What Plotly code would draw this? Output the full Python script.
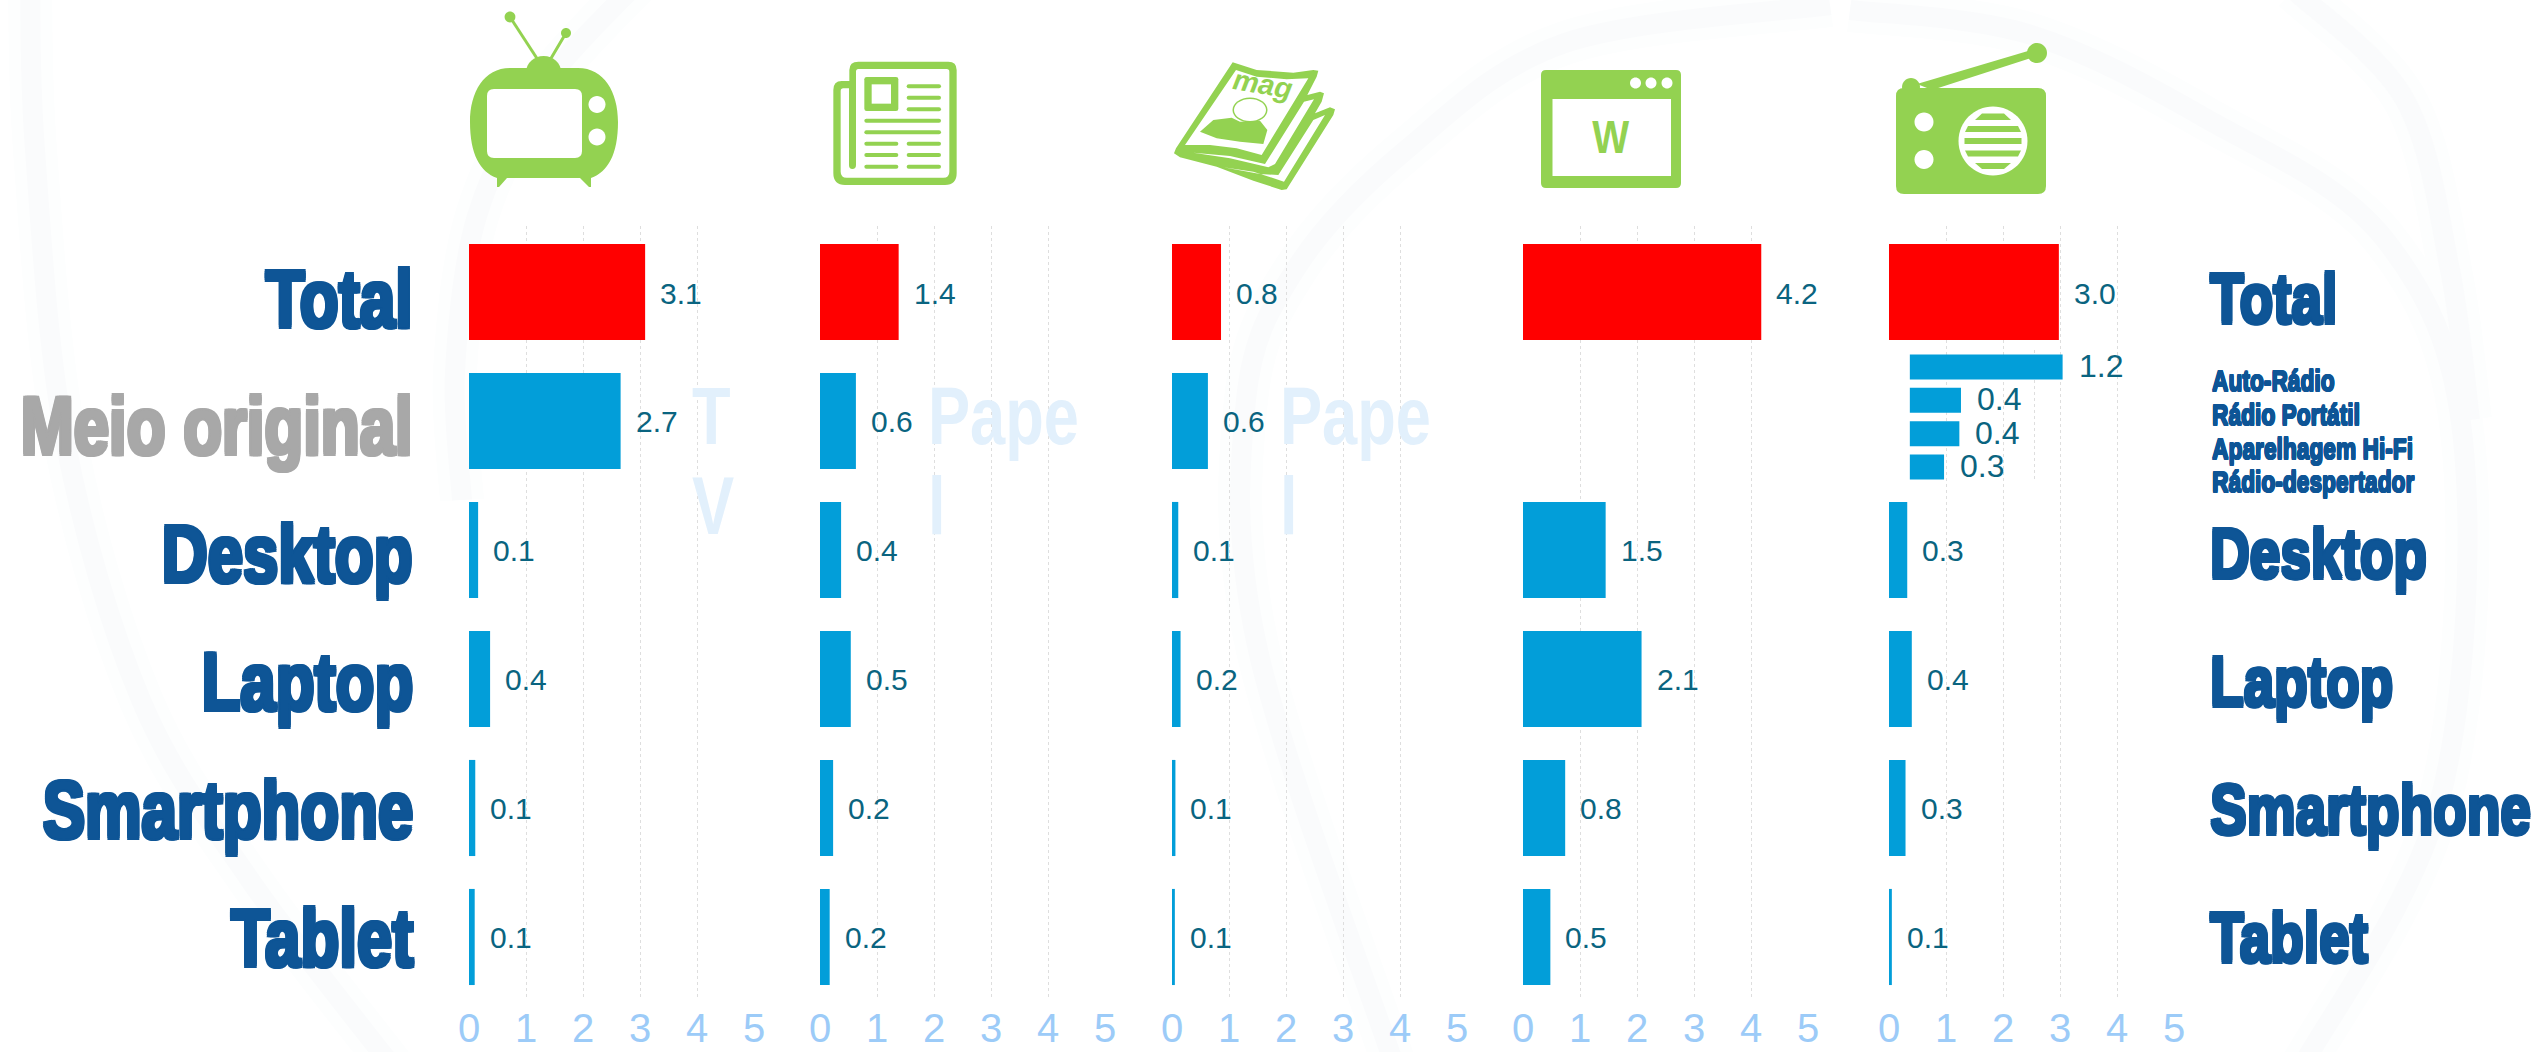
import re
import plotly.graph_objects as go

W, H = 2547, 1052

# ---------- data ----------
rows = ["Total", "Meio original", "Desktop", "Laptop", "Smartphone", "Tablet"]
tv_values = [3.09, 2.66, 0.16, 0.37, 0.11, 0.10]
tv_labels = ["3.1", "2.7", "0.1", "0.4", "0.1", "0.1"]
paper_values = [1.38, 0.63, 0.37, 0.54, 0.23, 0.17]
paper_labels = ["1.4", "0.6", "0.4", "0.5", "0.2", "0.2"]
mag_values = [0.86, 0.63, 0.11, 0.15, 0.06, 0.05]
mag_labels = ["0.8", "0.6", "0.1", "0.2", "0.1", "0.1"]
web_values = [4.18, None, 1.45, 2.08, 0.74, 0.48]
web_labels = ["4.2", "", "1.5", "2.1", "0.8", "0.5"]
radio_values = [2.98, None, 0.32, 0.40, 0.29, 0.05]
radio_labels = ["3.0", "", "0.3", "0.4", "0.3", "0.1"]
radio_kinds = ["Auto-Rádio", "Rádio Portátil", "Aparelhagem Hi-Fi", "Rádio-despertador"]
radio_kind_values = [1.23, 0.413, 0.40, 0.277]
radio_kind_labels = ["1.2", "0.4", "0.4", "0.3"]
axis_ticks = [0, 1, 2, 3, 4, 5]

panel_values = [tv_values, paper_values, mag_values, web_values, radio_values]
panel_labels = [tv_labels, paper_labels, mag_labels, web_labels, radio_labels]
panel_x0 = [469, 820, 1172, 1523, 1889]
UNIT = 57

# ---------- colours ----------
RED = "#ff0000"
BLUE = "#029ed9"
GREEN = "#93d251"
NAVY = "#0e5596"
GREY = "#a8a8a8"
TEAL = "#0a6480"
TICK = "#9ccbf8"
GHOST = "#e2f0fc"
GRID = "#dedede"
SANS = "Liberation Sans"


def fx(x):
    return x / W


def fy(y):
    return 1 - y / H


def tr(path, sx=1, sy=1, ox=0, oy=0):
    """Turn a path in picture pixels into a path in paper fractions."""
    out, nums = [], []
    for tok in re.findall(r"[MLQCZ]|-?\d+\.?\d*", path):
        if tok in "MLQCZ":
            out.append(tok)
        else:
            nums.append(float(tok))
            if len(nums) == 2:
                out.append(f"{fx(nums[0]*sx+ox):.6f},{fy(nums[1]*sy+oy):.6f}")
                nums = []
    return " ".join(out)


shapes = []


def fill(path, color=GREEN, **k):
    shapes.append(dict(type="path", xref="paper", yref="paper", path=tr(path, **k),
                       fillcolor=color, line=dict(width=0), layer="below"))


def poly(pts, color=GREEN, **k):
    fill("M" + " L".join(f"{a},{b}" for a, b in pts) + " Z", color, **k)


def ell(cx, cy, rx, ry=None, color=GREEN):
    ry = rx if ry is None else ry
    c = 0.5523
    fill(f"M{cx-rx},{cy} C{cx-rx},{cy-c*ry} {cx-c*rx},{cy-ry} {cx},{cy-ry} "
         f"C{cx+c*rx},{cy-ry} {cx+rx},{cy-c*ry} {cx+rx},{cy} "
         f"C{cx+rx},{cy+c*ry} {cx+c*rx},{cy+ry} {cx},{cy+ry} "
         f"C{cx-c*rx},{cy+ry} {cx-rx},{cy+c*ry} {cx-rx},{cy} Z", color)


def rrect(x0, y0, x1, y1, r, color=GREEN):
    fill(f"M{x0+r},{y0} L{x1-r},{y0} Q{x1},{y0} {x1},{y0+r} L{x1},{y1-r} Q{x1},{y1} {x1-r},{y1} "
         f"L{x0+r},{y1} Q{x0},{y1} {x0},{y1-r} L{x0},{y0+r} Q{x0},{y0} {x0+r},{y0} Z", color)


def stroke(points, color, width):
    d = [f"M{points[0][0]},{points[0][1]}"]
    p = [points[0]] + list(points) + [points[-1]]
    for i in range(1, len(p) - 2):
        a, b, c, e = p[i - 1], p[i], p[i + 1], p[i + 2]
        d.append(f"C{b[0]+(c[0]-a[0])/6:.1f},{b[1]+(c[1]-a[1])/6:.1f} "
                 f"{c[0]-(e[0]-b[0])/6:.1f},{c[1]-(e[1]-b[1])/6:.1f} {c[0]},{c[1]}")
    shapes.append(dict(type="path", xref="paper", yref="paper", path=tr(" ".join(d)),
                       line=dict(color=color, width=width), layer="below"))


# ---------- faint background swooshes ----------
swooshes = [
    [(30, -20), (35, 150), (65, 440), (141, 700), (250, 880), (395, 1070)],
    [(640, -20), (540, 90), (477, 216), (455, 372), (462, 500)],
    [(1830, 5), (1565, 43), (1406, 150), (1297, 267), (1246, 400), (1258, 650), (1396, 1070)],
    [(1850, 10), (2028, 34), (2205, 118), (2383, 237), (2463, 440), (2440, 800), (2300, 1070)],
    [(2294, -10), (2405, 100), (2450, 270), (2470, 420)],
]
for s in swooshes:
    stroke(s, "#fdfefe", 44)
for s in swooshes:
    stroke(s, "#fafbfc", 20)

# ---------- TV icon ----------
stroke([(510, 17), (538, 60)], GREEN, 3)
stroke([(566, 33), (550, 60)], GREEN, 3)
ell(510, 17, 5.4, 5.4)
ell(566, 33, 5, 5)
ell(543.6, 72, 17.5, 16)
fill("M510,68 L578,68 C604,68 618,92 618,122 C618,154 608,172 591,178 L591,187 L589,187 L580,178 "
     "L507,178 L499,187 L497,187 L497,178 C480,172 470,154 470,122 C470,92 484,68 510,68 Z")
rrect(487, 89, 582, 158, 7, "white")
ell(597, 104.5, 8.5, 8.5, "white")
ell(597, 137, 8.5, 8.5, "white")

# ---------- newspaper icon ----------
news = dict(sx=1 / 3, sy=1 / 3, ox=825, oy=55)
fill("M100,20 L370,20 Q395,20 395,45 L395,355 Q395,390 360,390 L60,390 Q25,390 25,355 L25,105 "
     "Q25,78 50,78 L73,78 L73,45 Q73,20 100,20 Z", **news)
fill("M100,42 L365,42 Q373,42 373,50 L373,350 Q373,368 355,368 L65,368 Q47,368 47,350 L47,108 "
     "Q47,100 55,100 L72,100 L72,330 Q72,342 82,342 Q93,342 93,330 L93,50 Q93,42 100,42 Z",
     "white", **news)
fill("M125,66 L213,66 Q220,66 220,73 L220,161 Q220,168 213,168 L125,168 Q118,168 118,161 L118,73 "
     "Q118,66 125,66 Z", **news)
fill("M140,88 L198,88 L198,146 L140,146 Z", "white", **news)
news_lines = [(245, 348, 94), (245, 348, 128), (245, 348, 163), (118, 348, 197), (118, 348, 232),
              (118, 220, 266), (245, 348, 266), (118, 220, 300), (245, 348, 300),
              (118, 220, 335), (245, 348, 335)]
for a, b, y in news_lines:
    fill(f"M{a+6},{y-6} L{b-6},{y-6} Q{b},{y-6} {b},{y} Q{b},{y+6} {b-6},{y+6} L{a+6},{y+6} "
         f"Q{a},{y+6} {a},{y} Q{a},{y-6} {a+6},{y-6} Z", **news)

# ---------- magazine icon ----------
mag = dict(sx=1 / 3, sy=1 / 3, ox=1160, oy=50)
poly([(218, 37), (290, 60), (400, 68), (460, 60), (475, 62), (470, 80), (442, 135), (480, 125),
      (492, 130), (485, 155), (465, 190), (510, 172), (525, 178), (520, 195), (380, 418), (365, 420),
      (280, 392), (170, 350), (60, 322), (42, 310), (48, 295)], **mag)
poly([(228, 60), (290, 80), (380, 88), (445, 85), (305, 315), (230, 295), (150, 285), (75, 285)],
     "white", **mag)
poly([(432, 155), (462, 148), (345, 342), (325, 352), (210, 325), (100, 308), (210, 318), (315, 342)],
     "white", **mag)
poly([(460, 210), (495, 195), (372, 395), (280, 365), (190, 352), (300, 372), (355, 375)], "white", **mag)
poly([(120, 245), (160, 210), (215, 203), (240, 215), (300, 212), (322, 240), (310, 282), (240, 275),
      (170, 265)], **mag)
ell(1160 + 270 / 3, 50 + 180 / 3, 17.5, 12.5)
ell(1160 + 270 / 3, 50 + 180 / 3, 16, 11, "white")

# ---------- web icon ----------
rrect(1541, 70, 1681, 188, 5)
fill("M1552.5,99 L1671,99 L1671,176 L1552.5,176 Z", "white")
for cx in (1635.5, 1651, 1667):
    ell(cx, 83, 5.5, 5.5, "white")

# ---------- radio icon ----------
ell(1911, 87, 9)
poly([(1917, 84), (2028, 51), (2031, 58), (1932, 90)])
ell(2037, 53, 10)
rrect(1896, 88, 2046, 194, 8)
ell(1924, 122, 9.5, 9.5, "white")
ell(1924, 159.5, 9.5, 9.5, "white")
ell(1993, 141, 34.5, 34.5, "white")
poly([(1982, 113.5), (2004, 113.5), (2011, 120), (1975, 120)])
poly([(1968, 126), (2018, 126), (2021, 132), (1965, 132)])
poly([(1964.5, 138), (2021.5, 138), (2021.5, 144), (1964.5, 144)])
poly([(1965, 150.5), (2021, 150.5), (2018, 156.5), (1968, 156.5)])
poly([(1975, 163), (2011, 163), (2004, 169), (1982, 169)])

# ---------- figure ----------
fig = go.Figure()
layout = {}
ann = []


def text(px, py, s, size, color, anchor="left", squeeze=None, shadow=None, bold=True, **k):
    f = dict(size=size, color=color, family=SANS, weight=700 if bold else 400)
    if shadow:
        f["shadow"] = shadow
    d = dict(xref="paper", yref="paper", x=fx(px), y=fy(py), text=s, showarrow=False,
             xanchor=anchor, yanchor="middle", font=f, **k)
    if squeeze:
        d["name"] = f"squeeze:{squeeze}"
    ann.append(d)


def heavy(c, d=1.5):
    return ", ".join(f"{a}px {b}px 0 {c}" for a, b in
                     [(d, 0), (-d, 0), (0, d), (0, -d), (d, d), (-d, -d), (d, -d), (-d, d)])


# y range chosen so gridlines span 226..998 with rows 129 px apart, first centred at 292
Y_RANGE = [5.473, -0.5116]
for i, (vals, labs, x0) in enumerate(zip(panel_values, panel_labels, panel_x0)):
    n = i + 1
    colors = [RED] + [BLUE] * 5
    fig.add_trace(go.Bar(x=vals, y=rows, orientation="h", marker=dict(color=colors, line=dict(width=0)),
                         width=0.745, xaxis=f"x{n}", yaxis=f"y{n}", showlegend=False, hoverinfo="x+y"))
    layout[f"xaxis{n}"] = dict(domain=[fx(x0), fx(x0 + 5 * UNIT)], range=[0, 5], anchor=f"y{n}",
                               tickvals=axis_ticks, showgrid=True, gridcolor=GRID, griddash="dot",
                               gridwidth=1, zeroline=False, showline=False, ticks="", automargin=False,
                               ticklabelstandoff=3,
                               tickfont=dict(size=40, color=TICK, family=SANS))
    layout[f"yaxis{n}"] = dict(domain=[fy(998), fy(226)], range=Y_RANGE, anchor=f"x{n}", type="category",
                               categoryorder="array", categoryarray=rows, showticklabels=False,
                               automargin=False, showgrid=False, zeroline=False, showline=False, ticks="")
    for r, v, l in zip(rows, vals, labs):
        if v is None:
            continue
        ann.append(dict(xref=f"x{n}", yref=f"y{n}", x=v, y=r, text=l, showarrow=False, xanchor="left",
                        yanchor="middle", xshift=13, yshift=-1,
                        font=dict(size=30, color=TEAL, family=SANS)))

# radio inset
fig.add_trace(go.Bar(x=radio_kind_values, y=radio_kinds, orientation="h",
                     marker=dict(color=BLUE, line=dict(width=0)), width=0.75, xaxis="x6", yaxis="y6",
                     showlegend=False, hoverinfo="x+y"))
layout["xaxis6"] = dict(domain=[fx(1909.6), fx(2158.4)], range=[0, 2], anchor="y6", tickvals=[0, 1, 2],
                        showticklabels=False, showgrid=True, gridcolor=GRID, griddash="dot", zeroline=False,
                        automargin=False, showline=False, ticks="")
layout["yaxis6"] = dict(domain=[fy(482), fy(350)], range=[3.45, -0.51], anchor="x6", type="category",
                        categoryorder="array", categoryarray=radio_kinds, showticklabels=False,
                        automargin=False, showgrid=False, zeroline=False, showline=False, ticks="")
for r, v, l in zip(radio_kinds, radio_kind_values, radio_kind_labels):
    ann.append(dict(xref="x6", yref="y6", x=v, y=r, text=l, showarrow=False, xanchor="left", yanchor="middle",
                    xshift=14, yshift=1, font=dict(size=32, color=TEAL, family=SANS)))

# row labels, left and right
label_y = [298, 426, 553, 681, 809, 937]
for r, py in zip(rows, label_y):
    c = GREY if r == "Meio original" else NAVY
    text(415, py, r, 82, c, anchor="right", squeeze=0.775, shadow=heavy(c, 2))
    if r != "Meio original":
        text(2208, py, r, 71, NAVY, anchor="left", squeeze=0.775, shadow=heavy(NAVY, 1.6))
for k, py in zip(radio_kinds, [381, 415, 449, 482]):
    text(2210, py, k, 29, NAVY, anchor="left", squeeze=0.785, shadow=heavy(NAVY, 0.6))

# ghost channel names
for gx, first, second in [(690, "T", "V"), (926, "Pape", "l"), (1278, "Pape", "l")]:
    text(gx, 415, first, 82, GHOST, squeeze=0.77)
    text(gx, 505, second, 82, GHOST, squeeze=0.77)

# icon lettering
text(1611, 137, "W", 46, GREEN, anchor="center", squeeze=0.85)
text(1263, 84, "<i>mag</i>", 29, GREEN, anchor="center", textangle=10)

fig.update_layout(template="none", width=W, height=H, margin=dict(l=0, r=0, t=0, b=0, pad=0), autosize=False,
                  paper_bgcolor="white", plot_bgcolor="rgba(0,0,0,0)", showlegend=False,
                  shapes=shapes, annotations=ann, **layout)

# No condensed face is installed, so the heavy condensed lettering is narrowed horizontally.
squeeze_js = """
document.body.style.margin='0';document.body.style.overflow='hidden';
var gd=document.getElementById('{plot_id}');
function squeezeLabels(){
  (gd.layout.annotations||[]).forEach(function(a,i){
    if(!a.name||a.name.indexOf('squeeze:')!==0){return;}
    var k=parseFloat(a.name.split(':')[1]);
    var t=gd.querySelector('.annotation[data-index="'+i+'"] text');
    if(!t){return;}
    var b=t.getBBox();
    var px=a.xanchor==='right'?b.x+b.width:(a.xanchor==='left'?b.x:b.x+b.width/2);
    t.setAttribute('transform','translate('+px+',0) scale('+k+',1) translate('+(-px)+',0)');
  });
}
squeezeLabels();gd.on('plotly_afterplot',squeezeLabels);setTimeout(squeezeLabels,100);
"""
fig.write_html("out.html", config=dict(displayModeBar=False), post_script=squeeze_js)
